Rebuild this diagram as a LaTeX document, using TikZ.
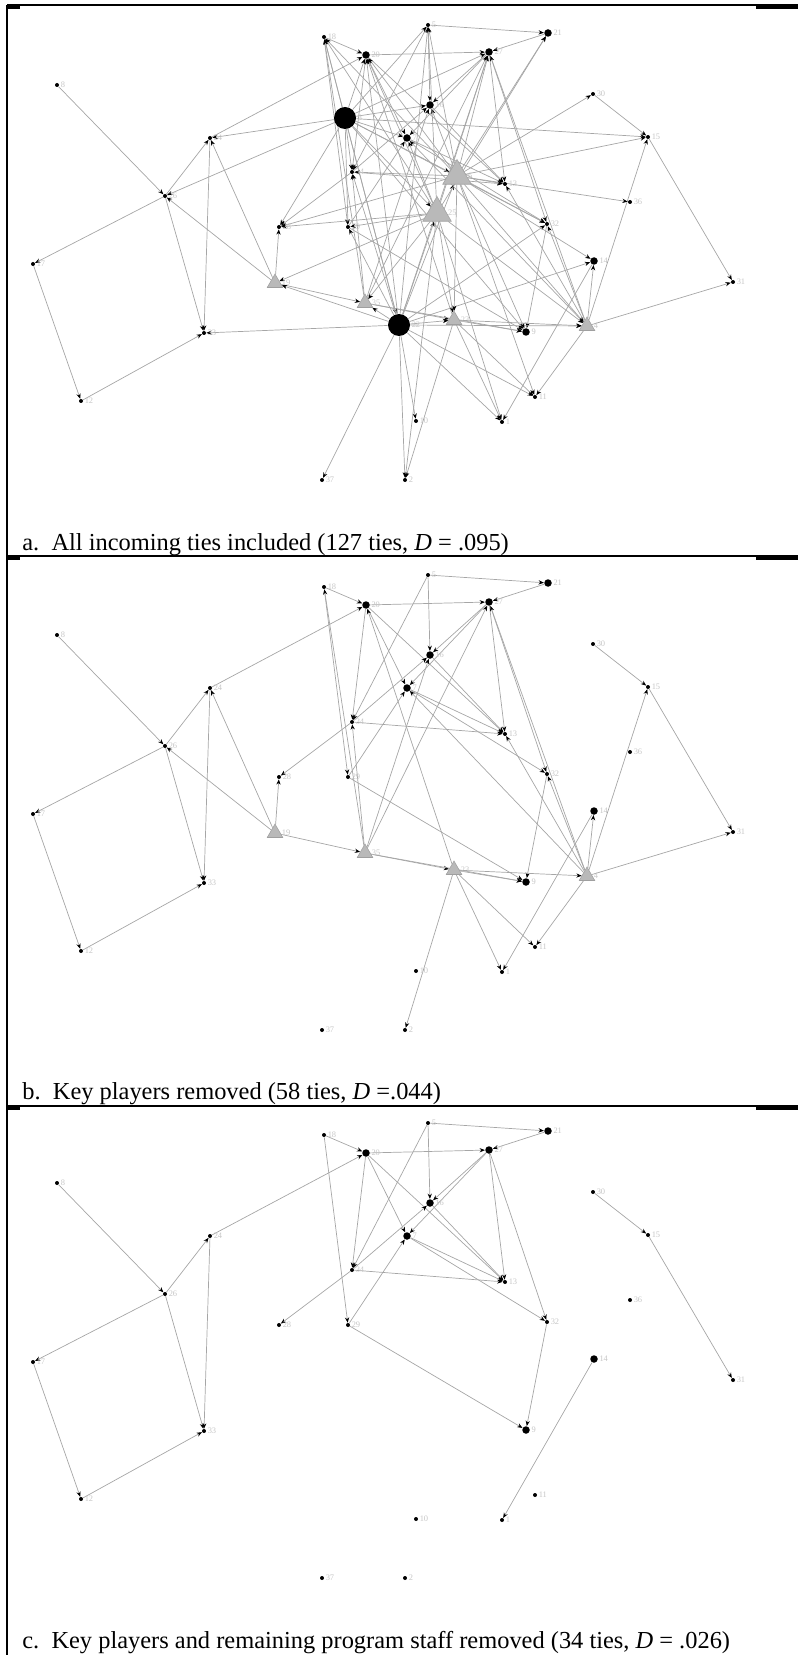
\documentclass[tikz,border=0pt]{standalone}
\usepackage{fontspec}
\setmainfont{Liberation Serif}
\usetikzlibrary{arrows.meta,shapes.geometric,backgrounds}
\tikzset{
  actor/.style={circle, fill=black, inner sep=0pt, minimum size=0.08cm},
  hub/.style={circle, fill=black, inner sep=0pt, minimum size=0.15cm},
  keyhub/.style={circle, fill=black, inner sep=0pt, minimum size=0.44cm},
  staff/.style={regular polygon, regular polygon sides=3, fill=gray!55, draw=gray!75,
                line width=0.3pt, inner sep=0pt, minimum size=0.36cm},
  keystaff/.style={staff, minimum size=0.66cm},
  tie/.style={draw=gray!70, line width=0.4pt, -{Stealth[length=3pt,width=2.4pt,color=black]}},
  idlbl/.style={font=\fontsize{4.8}{5}\selectfont, text=gray!45, inner sep=0.6pt},
  caption/.style={anchor=base west, font=\fontsize{13.9}{16}\selectfont, inner sep=0pt},
}
% actors: id/x/y/style/label (pixel grid of one panel)
\newcommand{\plainactors}{%
  1/57/85/actor/8,2/324/37/actor/18,3/366/55/hub/20,4/428/25/actor/5,%
  5/548/33/hub/21,6/489/52/hub/27,8/430/105/hub/16,9/407/138/hub/7,%
  10/593/94/actor/30,11/648/137/actor/15,12/210/138/actor/24,13/165/196/actor/26,%
  14/352/172/actor/34,15/505/184/actor/13,18/630/202/actor/36,19/279/227/actor/28,%
  20/348/227/actor/29,21/547/224/actor/32,22/33/264/actor/17,23/594/261/hub/14,%
  24/733/282/actor/31,29/526/332/hub/9,31/204/333/actor/33,32/81/401/actor/12,%
  33/535/397/actor/11,34/502/422/actor/1,35/416/421/actor/10,36/322/480/actor/37,%
  37/405/480/actor/2}
\newcommand{\staffactors}{%
  25/275/283/staff/19,26/365/303/staff/35,28/454/320/staff/23,30/587/326/staff/4}
\newcommand{\keyactors}{%
  7/345/118/keyhub/3,27/399/325/keyhub/22,16/457/176/keystaff/6,17/437/213/keystaff/25}
% ties left after all removals
\newcommand{\tiesc}{%
  1/13,13/22,22/32,32/31,13/31,13/12,12/31,12/3,2/20,2/3,3/6,4/5,4/8,4/14,5/6,6/8,%
  6/9,6/15,6/21,3/15,8/15,9/21,14/15,14/19,14/8,20/29,21/29,23/34,10/11,11/24,20/9,%
  3/9,3/14,9/15}
% ties of remaining program staff
\newcommand{\tiesb}{%
  25/19,25/12,25/13,25/26,26/2,26/28,26/8,26/6,28/3,28/29,28/30,28/37,28/34,28/33,%
  30/6,30/23,30/11,30/24,30/33,30/21,30/15,30/9,26/29,26/14}
% ties of key players
\newcommand{\tiesa}{%
  7/12,7/13,7/2,7/3,7/6,7/4,7/16,7/17,7/27,7/14,7/20,7/19,7/9,7/11,7/21,7/29,7/8,%
  27/31,27/36,27/37,27/35,27/34,27/33,27/30,27/28,27/26,27/25,27/20,27/14,27/16,%
  27/17,27/3,27/2,27/4,27/6,27/23,27/21,%
  16/3,16/2,16/4,16/6,16/5,16/10,16/11,16/18,16/15,16/21,16/23,16/29,16/8,16/14,%
  16/19,16/28,16/30,16/33,%
  17/2,17/3,17/4,17/6,17/5,17/9,17/19,17/20,17/25,17/26,17/28,17/30,17/34,17/37}
\newcommand{\putactors}[2]{\foreach \n/\x/\y/\s/\l in #2
  {\node[\s, label={[idlbl]right:\l}] (#1\n) at (\x,\y) {};}}
\newcommand{\putties}[2]{\foreach \u/\v in #2 {\draw[tie] (#1\u) -- (#1\v);}}

\begin{document}
\begin{tikzpicture}[x=0.02cm, y=-0.02cm]
  \useasboundingbox (0,0) rectangle (798,1655);

  % table rules
  \draw[line width=1pt] (7,5) -- (7,1655);
  \foreach \r in {5,556,1106} {
    \draw[line width=1pt] (7,\r) -- (798,\r);
    \draw[line width=2.6pt] (7,\r+2) -- (20,\r+2);
    \draw[line width=2.6pt] (756,\r+2) -- (798,\r+2);
  }

  % a. all ties
  \putactors{a}{\plainactors}
  \putactors{a}{\staffactors}
  \putactors{a}{\keyactors}
  \begin{pgfonlayer}{background}
    \putties{a}{\tiesc}
    \putties{a}{\tiesb}
    \putties{a}{\tiesa}
  \end{pgfonlayer}
  \node[caption] (capa) at (22,550)
       {a.\ \ All incoming ties included (127 ties, \textit{D} = .095)};

  % b. key players removed
  \begin{scope}[shift={(0,550)}]
    \putactors{b}{\plainactors}
    \putactors{b}{\staffactors}
    \begin{pgfonlayer}{background}
      \putties{b}{\tiesc}
      \putties{b}{\tiesb}
    \end{pgfonlayer}
  \end{scope}
  \node[caption] (capb) at (22,1099)
       {b.\ \ Key players removed (58 ties, \textit{D} =.044)};

  % c. key players and program staff removed
  \begin{scope}[shift={(0,1098)}]
    \putactors{c}{\plainactors}
    \begin{pgfonlayer}{background}
      \putties{c}{\tiesc}
    \end{pgfonlayer}
  \end{scope}
  \node[caption] (capc) at (22,1648)
       {c.\ \ Key players and remaining program staff removed (34 ties, \textit{D} = .026)};
\end{tikzpicture}
\end{document}
